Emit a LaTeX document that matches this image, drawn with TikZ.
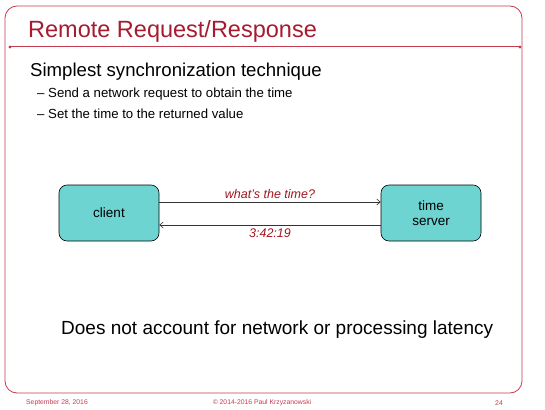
\documentclass[tikz,border=0pt]{standalone}
\usepackage{fontspec}
\setmainfont{Liberation Sans}
\definecolor{slideRed}{HTML}{A51C30}
\definecolor{frameRed}{HTML}{C23B4E}
\definecolor{boxCyan}{HTML}{6DD4D2}
\definecolor{labelRed}{HTML}{A0161E}
\usetikzlibrary{positioning, arrows.meta}
\tikzset{
  endpoint/.style={draw=black, line width=0.6pt, fill=boxCyan, rounded corners=8pt,
    minimum width=100pt, minimum height=56pt, align=center, font=\fontsize{13.5}{15.5}\selectfont},
  msg/.style={draw=black!80, line width=0.6pt, -{Straight Barb[length=3.5pt,width=6pt]}},
  msglabel/.style={text=labelRed, font=\fontsize{12.5}{14}\selectfont\itshape},
  footer/.style={text=frameRed, font=\fontsize{6.8}{8}\selectfont}
}
\begin{document}
\begin{tikzpicture}[x=1pt, y=-1pt]
  \useasboundingbox (0,0) rectangle (545,409);
  % slide frame
  \draw[frameRed, line width=0.8pt, rounded corners=12pt] (5,6) rectangle (522,393);
  \node[anchor=base west, text=slideRed, font=\fontsize{23.5}{28}\selectfont, inner sep=0pt] (title) at (28,38) {Remote Request/Response};
  \coordinate (ruleL) at (10,47);
  \coordinate (ruleR) at (520,47);
  \draw[frameRed, line width=1pt] (ruleL) -- (ruleR);
  \fill[frameRed] (ruleL) circle (1.6pt) (ruleR) circle (1.6pt);

  % bullets
  \node[anchor=base west, inner sep=0pt, font=\fontsize{18.6}{22}\selectfont] (point) at (30,77) {Simplest synchronization technique};
  \node[anchor=base west, inner sep=0pt, font=\fontsize{13.2}{16}\selectfont] (sub1) at (37,98) {– Send a network request to obtain the time};
  \node[anchor=base west, inner sep=0pt, font=\fontsize{13.2}{16}\selectfont] (sub2) at (37,118) {– Set the time to the returned value};

  % request and response
  \node[endpoint] (client) at (109,213) {client};
  \node[endpoint] (server) at (431,213) {time\\server};
  \draw[msg] ([yshift=11pt]client.east) -- ([yshift=11pt]server.west)
    node[midway, above=0pt, msglabel] (ask) {what’s the time?};
  \draw[msg] ([yshift=-12pt]server.west) -- ([yshift=-12pt]client.east)
    node[midway, below=0pt, msglabel] (reply) {3:42:19};

  \node[anchor=base west, inner sep=0pt, font=\fontsize{19}{22}\selectfont] (note) at (61,334) {Does not account for network or processing latency};

  % footer
  \node[footer] (date) at (57,403) {September 28, 2016};
  \node[footer] (copy) at (262,403) {© 2014-2016 Paul Krzyzanowski};
  \node[footer] (page) at (499,403) {24};
\end{tikzpicture}
\end{document}
